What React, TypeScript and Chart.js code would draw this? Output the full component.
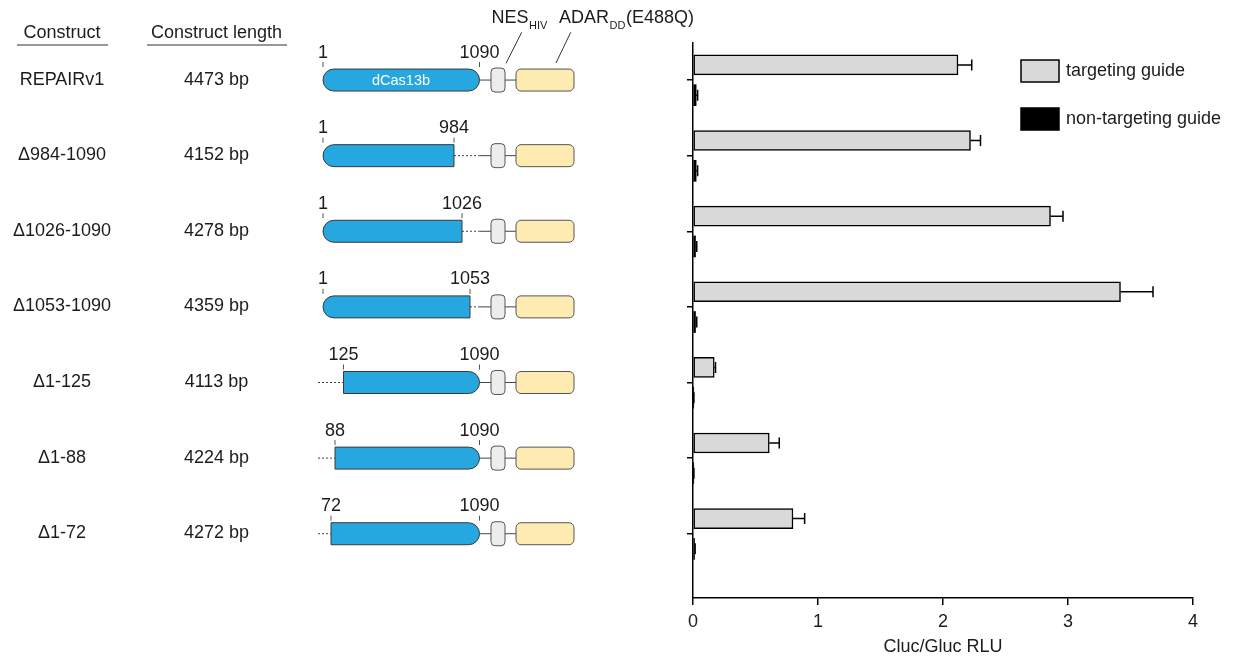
import React, { useEffect, useRef } from 'react';
import { Chart, registerables } from 'chart.js';

Chart.register(...registerables);

// ---------------- data ----------------
const constructs = ['REPAIRv1', 'Δ984-1090', 'Δ1026-1090', 'Δ1053-1090', 'Δ1-125', 'Δ1-88', 'Δ1-72'];
const lengths = ['4473 bp', '4152 bp', '4278 bp', '4359 bp', '4113 bp', '4224 bp', '4272 bp'];
const startRes = [1, 1, 1, 1, 125, 88, 72];
const endRes = [1090, 984, 1026, 1053, 1090, 1090, 1090];
const FULL_START = 1;
const FULL_END = 1090;
const targeting = [2.12, 2.22, 2.86, 3.42, 0.17, 0.61, 0.8];
const targetingErr = [0.11, 0.08, 0.1, 0.26, 0.01, 0.08, 0.093];
const nonTargeting = [0.025, 0.025, 0.02, 0.02, 0.004, 0.004, 0.012];
const nonTargetingErr = [0.012, 0.012, 0.01, 0.01, 0.003, 0.003, 0.005];
const xTicks = [0, 1, 2, 3, 4];
const xTitle = 'Cluc/Gluc RLU';
const legendLabels = ['targeting guide', 'non-targeting guide'];
const headers = ['Construct', 'Construct length'];
const domainName = 'dCas13b';

// ---------------- styles / layout ----------------
const FONT = "'Liberation Sans', Arial, Helvetica, sans-serif";
const TEXT = '#1c1c1c';
const GRAY = '#D9D9D9';
const BLUE = '#27A7E0';
const NES_FILL = '#EDEDED';
const ADAR_FILL = '#FDEBB2';
const OUTLINE = '#3a3a3a';
// schematic residue -> pixel knots (diagram is not drawn to scale)
const RES_KNOTS: [number, number][] = [
  [1, 323], [72, 331], [88, 335], [125, 343.5], [984, 454], [1026, 462], [1053, 470], [1090, 479.5],
];
function resToPx(r: number): number {
  for (let k = 0; k < RES_KNOTS.length - 1; k++) {
    const [r0, p0] = RES_KNOTS[k];
    const [r1, p1] = RES_KNOTS[k + 1];
    if (r >= r0 && r <= r1) return p0 + ((r - r0) / (r1 - r0)) * (p1 - p0);
  }
  return RES_KNOTS[RES_KNOTS.length - 1][1];
}

const errorBarPlugin = {
  id: 'errorBars',
  afterDatasetsDraw(chart: any) {
    const ctx = chart.ctx;
    const xs = chart.scales.x;
    const errs = [targetingErr, nonTargetingErr];
    const vals = [targeting, nonTargeting];
    ctx.save();
    ctx.strokeStyle = '#000';
    ctx.lineWidth = 1.5;
    chart.data.datasets.forEach((_: any, d: number) => {
      const meta = chart.getDatasetMeta(d);
      meta.data.forEach((el: any, i: number) => {
        const x0 = xs.getPixelForValue(vals[d][i]);
        const x1 = xs.getPixelForValue(vals[d][i] + errs[d][i]);
        const y = el.y;
        ctx.beginPath();
        ctx.moveTo(x0, y);
        ctx.lineTo(x1, y);
        ctx.moveTo(x1, y - 5.5);
        ctx.lineTo(x1, y + 5.5);
        ctx.stroke();
      });
    });
    ctx.restore();
  },
};

function line(ctx: CanvasRenderingContext2D, x0: number, y0: number, x1: number, y1: number) {
  ctx.beginPath();
  ctx.moveTo(x0, y0);
  ctx.lineTo(x1, y1);
  ctx.stroke();
}

function drawConstruct(ctx: CanvasRenderingContext2D, i: number, cy: number) {
  const H = 22;
  const R = 11;
  const top = cy - H / 2;
  const xs = resToPx(startRes[i]);
  const xe = resToPx(endRes[i]);
  const xFullEnd = resToPx(FULL_END);
  const nes0 = 491, nes1 = 505, ad0 = 516, ad1 = 574;

  ctx.strokeStyle = '#444';
  ctx.lineWidth = 1;
  if (startRes[i] > FULL_START) {
    ctx.setLineDash([2, 2]);
    line(ctx, 318, cy, xs, cy);
    ctx.setLineDash([]);
  }
  if (endRes[i] < FULL_END) {
    ctx.setLineDash([2, 2]);
    line(ctx, xe, cy, xFullEnd, cy);
    ctx.setLineDash([]);
    line(ctx, xFullEnd, cy, nes0, cy);
  } else {
    line(ctx, xe, cy, nes0, cy);
  }
  line(ctx, nes1, cy, ad0, cy);

  const lR = startRes[i] === FULL_START ? R : 0;
  const rR = endRes[i] === FULL_END ? R : 0;
  ctx.beginPath();
  (ctx as any).roundRect(xs, top, xe - xs, H, [lR, rR, rR, lR]);
  ctx.fillStyle = BLUE;
  ctx.fill();
  ctx.strokeStyle = OUTLINE;
  ctx.lineWidth = 1;
  ctx.stroke();

  ctx.beginPath();
  (ctx as any).roundRect(nes0, cy - 12, nes1 - nes0, 24, 4);
  ctx.fillStyle = NES_FILL;
  ctx.fill();
  ctx.strokeStyle = '#555';
  ctx.stroke();

  ctx.beginPath();
  (ctx as any).roundRect(ad0, top, ad1 - ad0, H, 5);
  ctx.fillStyle = ADAR_FILL;
  ctx.fill();
  ctx.strokeStyle = '#555';
  ctx.stroke();

  ctx.strokeStyle = '#555';
  ctx.lineWidth = 1;
  line(ctx, xs, top - 7, xs, top - 2);
  line(ctx, xe, top - 7, xe, top - 2);

  ctx.fillStyle = TEXT;
  ctx.font = `18px ${FONT}`;
  ctx.textAlign = 'center';
  ctx.textBaseline = 'alphabetic';
  ctx.fillText(String(startRes[i]), xs, cy - 22.5);
  ctx.fillText(String(endRes[i]), xe, cy - 22.5);

  if (i === 0) {
    ctx.fillStyle = '#ffffff';
    ctx.font = `14.5px ${FONT}`;
    ctx.fillText(domainName, 401, cy + 5);
  }
}

const panelPlugin = {
  id: 'leftPanel',
  afterDraw(chart: any) {
    const ctx: CanvasRenderingContext2D = chart.ctx;
    const ys = chart.scales.y;
    ctx.save();

    ctx.fillStyle = TEXT;
    ctx.font = `18px ${FONT}`;
    ctx.textAlign = 'center';
    ctx.textBaseline = 'alphabetic';
    ctx.fillText(headers[0], 62, 37.5);
    ctx.fillText(headers[1], 216.5, 37.5);
    ctx.strokeStyle = '#333';
    ctx.lineWidth = 1.2;
    line(ctx, 17, 45, 108, 45);
    line(ctx, 147, 45, 287, 45);

    constructs.forEach((name, i) => {
      const cy = ys.getPixelForValue(i);
      ctx.fillStyle = TEXT;
      ctx.font = `18px ${FONT}`;
      ctx.textAlign = 'center';
      ctx.textBaseline = 'alphabetic';
      ctx.fillText(name, 62, cy + 4.5);
      ctx.fillText(lengths[i], 216.5, cy + 4.5);
      drawConstruct(ctx, i, cy);
    });

    ctx.fillStyle = TEXT;
    ctx.textAlign = 'left';
    ctx.textBaseline = 'alphabetic';
    let x = 491.5;
    ctx.font = `18px ${FONT}`;
    ctx.fillText('NES', x, 22.7);
    x += ctx.measureText('NES').width + 0.5;
    ctx.font = `11px ${FONT}`;
    ctx.fillText('HIV', x, 28.5);
    x = 559;
    ctx.font = `18px ${FONT}`;
    ctx.fillText('ADAR', x, 22.7);
    x += ctx.measureText('ADAR').width + 0.5;
    ctx.font = `11px ${FONT}`;
    ctx.fillText('DD', x, 28.5);
    x += ctx.measureText('DD').width + 0.5;
    ctx.font = `18px ${FONT}`;
    ctx.fillText('(E488Q)', x, 22.7);
    ctx.strokeStyle = '#333';
    ctx.lineWidth = 1;
    line(ctx, 521.7, 32.3, 506, 63.3);
    line(ctx, 570.7, 32.3, 556, 63);

    ctx.lineWidth = 1.5;
    ctx.strokeStyle = '#000';
    ctx.fillStyle = GRAY;
    ctx.fillRect(1021, 60, 38, 22);
    ctx.strokeRect(1021, 60, 38, 22);
    ctx.fillStyle = '#000';
    ctx.fillRect(1021, 108, 38, 22);
    ctx.strokeRect(1021, 108, 38, 22);
    ctx.fillStyle = TEXT;
    ctx.font = `18px ${FONT}`;
    ctx.textBaseline = 'middle';
    ctx.fillText(legendLabels[0], 1066, 71);
    ctx.fillText(legendLabels[1], 1066, 119);

    ctx.restore();
  },
};

export default function App() {
  const ref = useRef<HTMLCanvasElement | null>(null);
  useEffect(() => {
    if (!ref.current) return;
    const chart = new Chart(ref.current, {
      type: 'bar',
      data: {
        datasets: [
          {
            label: legendLabels[0],
            data: targeting.map((v, i) => ({ x: v, y: i - 0.2 })),
            backgroundColor: GRAY,
            borderColor: '#000',
            borderWidth: 1.5,
            borderSkipped: false,
            barThickness: 20,
            grouped: false,
          } as any,
          {
            label: legendLabels[1],
            data: nonTargeting.map((v, i) => ({ x: v, y: i + 0.2 })),
            backgroundColor: '#000',
            borderColor: '#000',
            borderWidth: 0,
            borderSkipped: false,
            barThickness: 21,
            grouped: false,
          } as any,
        ],
      },
      options: {
        indexAxis: 'y',
        responsive: false,
        animation: false,
        layout: { padding: { top: 43, right: 43, left: 0, bottom: 0 } },
        plugins: { legend: { display: false }, tooltip: { enabled: false } },
        scales: {
          x: {
            type: 'linear',
            min: 0,
            max: 4,
            offset: false,
            afterFit: (s: any) => { s.height = 64; },
            afterBuildTicks: (s: any) => { s.ticks = xTicks.map((v) => ({ value: v })); },
            ticks: { color: TEXT, font: { family: FONT, size: 18 }, padding: 6 },
            grid: { offset: false, drawOnChartArea: false, drawTicks: true, tickLength: 7, color: '#000', lineWidth: 1.5 },
            border: { display: true, color: '#000', width: 1.5 },
            title: { display: true, text: xTitle, color: TEXT, font: { family: FONT, size: 18 }, padding: { top: 4, bottom: 4 } },
          },
          y: {
            type: 'linear',
            min: -0.49,
            max: 6.85,
            reverse: true,
            offset: false,
            afterFit: (s: any) => { s.width = 693; },
            afterBuildTicks: (s: any) => { s.ticks = constructs.map((_, i) => ({ value: i })); },
            ticks: { display: false },
            grid: { offset: false, drawOnChartArea: false, drawTicks: true, tickLength: 6, color: '#000', lineWidth: 1.5 },
            border: { display: true, color: '#000', width: 1.5 },
          },
        },
      } as any,
      plugins: [errorBarPlugin, panelPlugin],
    });
    return () => chart.destroy();
  }, []);
  return (
    <div style={{ position: 'absolute', left: 0, top: 0, width: 1236, height: 662, background: '#fff' }}>
      <canvas ref={ref} width={1236} height={662} style={{ display: 'block', width: 1236, height: 662 }} />
    </div>
  );
}
